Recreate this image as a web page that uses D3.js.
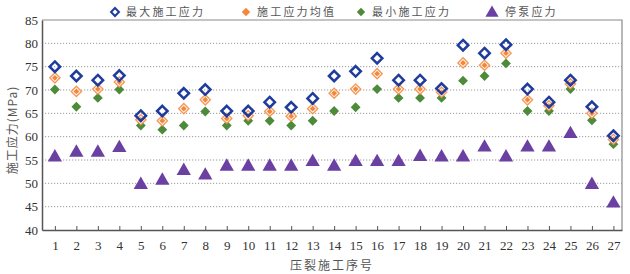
<!DOCTYPE html>
<html>
<head>
<meta charset="utf-8">
<script src="https://cdn.jsdelivr.net/npm/d3@7"></script>
<style>
  body { margin: 0; background: #fff; }
  svg { display: block; }
  .tick text { font-family: "Liberation Serif", "DejaVu Serif", serif; font-size: 13px; fill: #333; }
  .cjk { font-family: "Noto Sans CJK SC", sans-serif; fill: #555; }
</style>
</head>
<body>
<div id="chart"></div>
<script>
// 压裂施工序号 1..27
const stages = d3.range(1, 28);
const maxStress = [75.0, 73.0, 72.1, 73.1, 64.5, 65.5, 69.3, 70.1, 65.5, 65.5, 67.4, 66.3, 68.2, 73.0,
  74.0, 76.8, 72.1, 72.1, 70.3, 79.6, 77.9, 79.7, 70.2, 67.4, 72.1, 66.4, 60.2];
const meanStress = [72.6, 69.7, 70.2, 71.7, 63.6, 63.4, 66.0, 67.9, 63.9, 64.5, 65.4, 64.4, 66.0, 69.3,
  70.2, 73.5, 70.2, 70.2, 69.5, 75.8, 75.3, 77.9, 67.9, 66.6, 71.3, 65.0, 59.4];
const minStress = [70.1, 66.4, 68.3, 70.1, 62.4, 61.5, 62.4, 65.4, 62.4, 63.4, 63.4, 62.4, 63.4, 65.5,
  66.3, 70.2, 68.3, 68.3, 68.3, 72.0, 73.0, 75.7, 65.5, 65.5, 70.2, 63.5, 58.4];
const stopStress = [55.8, 56.8, 56.8, 57.8, 49.9, 50.8, 52.9, 51.9, 53.8, 53.8, 53.8, 53.8, 54.8, 53.8,
  54.8, 54.8, 54.8, 55.9, 55.8, 55.8, 57.9, 55.8, 57.9, 57.9, 60.8, 49.9, 45.9];
const yTicks = [40, 45, 50, 55, 60, 65, 70, 75, 80, 85];
const legendNames = ["最大施工应力", "施工应力均值", "最小施工应力", "停泵应力"];

const width = 630, height = 274;
const margin = { top: 20, right: 8, bottom: 44, left: 42 };

const blue = "#1f3c9c", orange = "#f5873a", green = "#4d8a3a", purple = "#6a40a3";

const svg = d3.select("#chart").append("svg")
  .attr("width", width).attr("height", height);

const x = d3.scaleLinear().domain([0.4, 27.4]).range([margin.left, width - margin.right]);
const y = d3.scaleLinear().domain([40, 85]).range([height - margin.bottom, margin.top]);

// dotted grid
svg.append("g")
  .selectAll("line")
  .data(yTicks.filter(d => d > 40 && d < 85))
  .enter().append("line")
  .attr("x1", margin.left).attr("x2", width - margin.right)
  .attr("y1", d => y(d)).attr("y2", d => y(d))
  .attr("stroke", "#9a9a9a").attr("stroke-width", 1)
  .attr("stroke-dasharray", "1.2,1.8");

// frame top/right
svg.append("path")
  .attr("d", `M${margin.left},${y(85)}H${x(27.4)}V${y(40)}`)
  .attr("fill", "none").attr("stroke", "#8a8a8a").attr("stroke-width", 1.2);

// x axis, ticks pointing inward
const xAxis = svg.append("g")
  .attr("transform", `translate(0,${y(40)})`)
  .call(d3.axisBottom(x).tickValues(stages).tickSizeInner(-4).tickSizeOuter(0)
    .tickPadding(11).tickFormat(d3.format("d")));
xAxis.select(".domain").attr("stroke", "#555").attr("stroke-width", 1.5);
xAxis.selectAll(".tick line").attr("stroke", "#555");

// y axis, labels only
const yAxis = svg.append("g")
  .attr("transform", `translate(${margin.left},0)`)
  .call(d3.axisLeft(y).tickValues(yTicks).tickSize(0).tickPadding(4));
yAxis.select(".domain").attr("stroke", "#555").attr("stroke-width", 1.5);

const diamond = d3.symbol().type(d3.symbolDiamond2);
const tri = d3.symbol().type(d3.symbolTriangle);

// 停泵应力
svg.append("g").selectAll("path")
  .data(stopStress)
  .enter().append("path")
  .attr("d", tri.size(88)())
  .attr("transform", (d, i) => `translate(${x(stages[i])},${y(d) + 1})`)
  .attr("fill", purple);

// 最小施工应力
svg.append("g").selectAll("path")
  .data(minStress)
  .enter().append("path")
  .attr("d", diamond.size(62)())
  .attr("transform", (d, i) => `translate(${x(stages[i])},${y(d)})`)
  .attr("fill", green);

// 施工应力均值 (ring + filled center)
const meanG = svg.append("g");
meanG.selectAll("path.ring")
  .data(meanStress)
  .enter().append("path")
  .attr("class", "ring")
  .attr("d", diamond.size(66)())
  .attr("transform", (d, i) => `translate(${x(stages[i])},${y(d)})`)
  .attr("fill", "#fff").attr("stroke", orange).attr("stroke-width", 1.4).attr("stroke-opacity", 0.85);
meanG.selectAll("path.core")
  .data(meanStress)
  .enter().append("path")
  .attr("class", "core")
  .attr("d", diamond.size(22)())
  .attr("transform", (d, i) => `translate(${x(stages[i])},${y(d)})`)
  .attr("fill", orange);

// 最大施工应力
svg.append("g").selectAll("path")
  .data(maxStress)
  .enter().append("path")
  .attr("d", diamond.size(70)())
  .attr("transform", (d, i) => `translate(${x(stages[i])},${y(d)})`)
  .attr("fill", "none").attr("stroke", blue).attr("stroke-width", 2.5);

// legend
const legendX = [115, 246, 361, 492];
const legend = svg.append("g").attr("transform", "translate(0,12)");
legendNames.forEach((name, i) => {
  const g = legend.append("g").attr("transform", `translate(${legendX[i]},0)`);
  if (i === 0) {
    g.append("path").attr("d", diamond.size(40)()).attr("fill", "none")
      .attr("stroke", blue).attr("stroke-width", 2);
  } else if (i === 1) {
    g.append("path").attr("d", diamond.size(45)()).attr("fill", orange);
  } else if (i === 2) {
    g.append("path").attr("d", diamond.size(45)()).attr("fill", green);
  } else {
    g.append("path").attr("d", tri.size(75)()).attr("transform", "translate(0,1)").attr("fill", purple);
  }
  g.append("text")
    .attr("class", "cjk")
    .attr("x", i === 3 ? 13 : 11).attr("y", 0).attr("dy", "0.36em")
    .style("font-size", "11px").style("letter-spacing", "2.2px")
    .text(name);
});

// axis titles
svg.append("text")
  .attr("class", "cjk")
  .attr("transform", `translate(13,${(y(40) + y(85)) / 2 + 5}) rotate(-90)`)
  .attr("text-anchor", "middle").attr("dy", "0.35em")
  .style("font-size", "12px").style("letter-spacing", "1px")
  .text("施工应力(MPa)");

svg.append("text")
  .attr("class", "cjk")
  .attr("x", (x(0.4) + x(27.4)) / 2).attr("y", 266)
  .attr("text-anchor", "middle").attr("dy", "0.35em")
  .style("font-size", "12px").style("letter-spacing", "2px")
  .text("压裂施工序号");
</script>
</body>
</html>
